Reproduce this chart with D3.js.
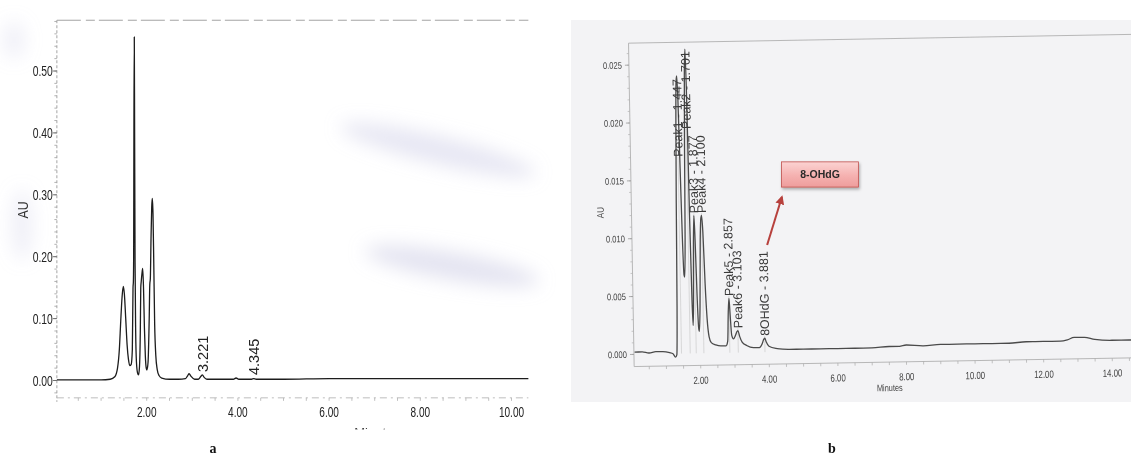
<!DOCTYPE html>
<html>
<head>
<meta charset="utf-8">
<script src="https://cdn.jsdelivr.net/npm/d3@7"></script>
<style>
  body { margin: 0; background: #fff; }
  svg { display: block; font-family: "Liberation Sans", Arial, sans-serif; }
</style>
</head>
<body>
<svg id="chart" width="1131" height="460"></svg>
<script>
// ---------------- Chromatogram a (AU vs minutes) ----------------
const traceA = [
  [0.03,0.001],[0.5,0.001],[1.0,0.001],[1.20,0.002],[1.30,0.006],[1.36,0.020],[1.40,0.050],
  [1.43,0.095],[1.46,0.135],[1.487,0.152],[1.51,0.140],[1.54,0.100],[1.57,0.058],[1.60,0.034],
  [1.63,0.024],[1.66,0.026],[1.685,0.050],[1.700,0.150],[1.708,0.160],[1.714,0.200],[1.720,0.420],
  [1.728,0.555],[1.735,0.400],[1.745,0.190],[1.758,0.080],[1.775,0.030],[1.800,0.012],[1.820,0.009],
  [1.840,0.020],[1.860,0.080],[1.870,0.150],[1.880,0.160],[1.895,0.172],[1.912,0.181],[1.930,0.150],
  [1.950,0.085],[1.970,0.040],[1.990,0.020],[2.005,0.017],[2.030,0.030],[2.055,0.100],[2.068,0.155],
  [2.080,0.165],[2.095,0.230],[2.110,0.280],[2.123,0.294],[2.138,0.270],[2.155,0.190],[2.175,0.090],
  [2.200,0.040],[2.230,0.018],[2.270,0.008],[2.330,0.004],[2.50,0.002],[2.70,0.002],[2.85,0.003],
  [2.90,0.008],[2.93,0.011],[2.97,0.007],[3.05,0.002],[3.13,0.002],[3.19,0.007],[3.221,0.009],
  [3.26,0.005],[3.32,0.002],[3.60,0.002],[3.90,0.002],[3.96,0.004],[4.02,0.002],[4.30,0.002],
  [4.345,0.003],[4.40,0.002],[5.0,0.002],[6.0,0.003],[7.0,0.003],[8.0,0.003],[9.0,0.003],[10.37,0.003]
];
const peakTimesA   = [3.221, 4.345];
const peakLabelAUa = [0.0137, 0.0089];   // AU where each retention-time label starts
const yTicksA = [0, 0.1, 0.2, 0.3, 0.4, 0.5];
const xTicksA = [2, 4, 6, 8, 10];

// ---------------- Chromatogram b (8-OHdG run) ----------------
const traceB = [
  [0.08,0.0002],[0.3,0.0002],[0.5,0.0001],[0.7,0.0002],[0.9,0.0002],[1.1,0.0001],[1.2,0.0000],
  [1.27,-0.0003],[1.31,-0.0001],[1.34,0.0040],[1.37,0.0130],[1.40,0.0200],[1.425,0.0235],[1.447,0.0240],
  [1.47,0.0220],[1.50,0.0160],[1.53,0.0100],[1.56,0.0068],[1.58,0.0066],[1.61,0.0100],[1.64,0.0180],
  [1.67,0.0240],[1.701,0.0263],[1.725,0.0220],[1.75,0.0120],[1.78,0.0045],[1.80,0.0024],[1.82,0.0040],
  [1.85,0.0095],[1.877,0.0119],[1.90,0.0098],[1.93,0.0050],[1.96,0.0022],[1.98,0.0019],[2.01,0.0040],
  [2.05,0.0098],[2.08,0.0117],[2.10,0.0119],[2.13,0.0105],[2.17,0.0060],[2.21,0.0030],[2.26,0.0014],
  [2.32,0.0009],[2.45,0.0007],[2.60,0.0006],[2.75,0.0006],[2.80,0.0010],[2.83,0.0035],[2.857,0.0047],
  [2.88,0.0035],[2.92,0.0015],[2.97,0.0012],[3.03,0.0015],[3.07,0.0018],[3.103,0.0019],[3.15,0.0014],
  [3.22,0.0009],[3.35,0.0006],[3.55,0.0004],[3.72,0.0004],[3.80,0.0007],[3.85,0.0011],[3.881,0.0012],
  [3.92,0.0009],[4.0,0.0005],[4.2,0.0003],[4.6,0.0002],[5.0,0.0002],[5.5,0.0002],[6.0,0.0002],
  [6.5,0.0002],[7.0,0.0002],[7.5,0.0003],[7.8,0.0003],[8.0,0.0004],[8.5,0.0003],[9.0,0.0004],
  [9.5,0.0004],[10.0,0.0004],[10.5,0.0004],[11.0,0.0004],[11.5,0.0005],[12.0,0.0005],[12.5,0.0005],
  [12.7,0.0006],[12.9,0.0008],[13.2,0.0008],[13.5,0.0006],[14.0,0.0005],[14.5,0.0005],[15.0,0.0005],[15.6,0.0005]
];
const peakNamesB   = ["Peak1", "Peak2", "Peak3", "Peak4", "Peak5", "Peak6", "8OHdG"];
const peakTimesB   = [1.447, 1.701, 1.877, 2.100, 2.857, 3.103, 3.881];
const peakLabelAUb = [0.0170, 0.0194, 0.0121, 0.0121, 0.0049, 0.0021, 0.0014];
const yTicksB = [0, 0.005, 0.010, 0.015, 0.020, 0.025];
const xTicksB = [2, 4, 6, 8, 10, 12, 14];
const calloutText = "8-OHdG";

const svg = d3.select("#chart");
const defs = svg.append("defs");

// soft blur used for the faint stains on the paper
defs.append("filter").attr("id", "stain").attr("x", "-50%").attr("y", "-50%")
  .attr("width", "200%").attr("height", "200%")
  .append("feGaussianBlur").attr("stdDeviation", 9);

// ================= Panel a =================
const xA = d3.scaleLinear().domain([0, 10]).range([55.5, 511.5]);
const yA = d3.scaleLinear().domain([0, 0.5]).range([380.5, 71]);
const gA = svg.append("g");

// stains
const stains = gA.append("g").attr("filter", "url(#stain)").attr("fill", "#c9c9e4");
stains.append("ellipse").attr("cx", 438).attr("cy", 150).attr("rx", 100).attr("ry", 14)
  .attr("transform", "rotate(13.5,438,150)").attr("opacity", 0.45);
stains.append("ellipse").attr("cx", 452).attr("cy", 266).attr("rx", 88).attr("ry", 14)
  .attr("transform", "rotate(10,452,266)").attr("opacity", 0.5);
stains.append("ellipse").attr("cx", 14).attr("cy", 40).attr("rx", 10).attr("ry", 18).attr("opacity", 0.3);
stains.append("ellipse").attr("cx", 22).attr("cy", 225).attr("rx", 10).attr("ry", 35).attr("opacity", 0.3);

const axA = { left: xA(0.03), right: xA(10.37), top: yA(0.582), bottom: yA(-0.028) };

// frame lines
gA.append("line").attr("x1", axA.left).attr("x2", axA.right).attr("y1", axA.top).attr("y2", axA.top)
  .attr("stroke", "#9a9a9a").attr("stroke-width", 0.9).attr("stroke-dasharray", "24,5,9,4");
gA.append("line").attr("x1", axA.left).attr("x2", axA.left).attr("y1", axA.top).attr("y2", axA.bottom + 4)
  .attr("stroke", "#9a9a9a").attr("stroke-width", 0.9).attr("stroke-dasharray", "3,2");
gA.append("line").attr("x1", axA.left).attr("x2", axA.right).attr("y1", axA.bottom).attr("y2", axA.bottom)
  .attr("stroke", "#b5b5b5").attr("stroke-width", 0.9).attr("stroke-dasharray", "7,4,2,4");

// y axis ticks and labels
const yMinorA = d3.range(-0.02, 0.581, 0.02);
gA.selectAll(".yminA").data(yMinorA).join("line")
  .attr("x1", axA.left - 2.5).attr("x2", axA.left).attr("y1", d => yA(d)).attr("y2", d => yA(d))
  .attr("stroke", "#a0a0a0").attr("stroke-width", 0.8);
gA.selectAll(".yTickA").data(yTicksA).join("line")
  .attr("x1", axA.left - 4).attr("x2", axA.left).attr("y1", d => yA(d)).attr("y2", d => yA(d))
  .attr("stroke", "#666").attr("stroke-width", 0.9);
gA.selectAll(".yLabA").data(yTicksA).join("text")
  .attr("transform", d => `translate(${axA.left - 4},${yA(d)}) scale(0.74,1)`)
  .attr("text-anchor", "end").attr("dy", "0.36em")
  .attr("font-size", 14).attr("fill", "#222")
  .text(d => d3.format(".2f")(d));

// x axis ticks and labels
const xMinorA = d3.range(0.5, 10.4, 0.5);
gA.selectAll(".xminA").data(xMinorA).join("line")
  .attr("x1", d => xA(d)).attr("x2", d => xA(d)).attr("y1", axA.bottom).attr("y2", axA.bottom + 3)
  .attr("stroke", "#b0b0b0").attr("stroke-width", 0.8);
gA.selectAll(".xLabA").data(xTicksA).join("text")
  .attr("transform", d => `translate(${xA(d)},417) scale(0.72,1)`)
  .attr("text-anchor", "middle").attr("font-size", 14).attr("fill", "#222")
  .text(d => d3.format(".2f")(d));

// axis titles
gA.append("text").attr("transform", `translate(23,210) rotate(-90)`)
  .attr("text-anchor", "middle").attr("dy", "0.36em").attr("font-size", 14).attr("fill", "#333")
  .attr("textLength", 17).attr("lengthAdjust", "spacingAndGlyphs").text("AU");
defs.append("clipPath").attr("id", "cutA").append("rect")
  .attr("x", 340).attr("y", 420).attr("width", 100).attr("height", 9.5);
gA.append("text").attr("clip-path", "url(#cutA)")
  .attr("x", xA(7.05)).attr("y", 437).attr("text-anchor", "middle")
  .attr("font-size", 13).attr("fill", "#444").text("Minutes");

// trace
const lineA = d3.line().x(d => xA(d[0])).y(d => yA(d[1])).curve(d3.curveMonotoneX);
gA.append("path").datum(traceA).attr("d", lineA)
  .attr("fill", "none").attr("stroke", "#1c1c1c").attr("stroke-width", 1.3).attr("stroke-linejoin", "round");

// retention-time labels
gA.selectAll(".rtA").data(peakTimesA).join("text")
  .attr("transform", (d, i) => `translate(${xA(d)},${yA(peakLabelAUa[i])}) rotate(-90)`)
  .attr("dy", "0.36em").attr("font-size", 14.5).attr("fill", "#222")
  .text(d => d3.format(".3f")(d));

svg.append("text").attr("x", 213).attr("y", 453).attr("text-anchor", "middle")
  .attr("font-family", "'Liberation Serif', 'Times New Roman', serif")
  .attr("font-weight", "bold").attr("font-size", 14).attr("fill", "#111").text("a");

// ================= Panel b =================
const xB = d3.scaleLinear().domain([0, 14]).range([632, 1112.2]);
const yB = d3.scaleLinear().domain([0, 0.025]).range([354.3, 65]);

// scanned sheet
svg.append("rect").attr("x", 571).attr("y", 20).attr("width", 570).attr("height", 382)
  .attr("fill", "#f3f3f5");

const gB = svg.append("g").attr("transform", "rotate(-1,640,360)");
const axB = { left: xB(0.06), right: xB(16), top: yB(0.0269), bottom: yB(-0.00105) };

gB.append("line").attr("x1", axB.left).attr("x2", axB.right).attr("y1", axB.top).attr("y2", axB.top)
  .attr("stroke", "#a8a8a8").attr("stroke-width", 0.8);
gB.append("line").attr("x1", axB.left).attr("x2", axB.left).attr("y1", axB.top).attr("y2", axB.bottom)
  .attr("stroke", "#a8a8a8").attr("stroke-width", 0.8);
gB.append("line").attr("x1", axB.left).attr("x2", axB.right).attr("y1", axB.bottom).attr("y2", axB.bottom)
  .attr("stroke", "#a8a8a8").attr("stroke-width", 0.8);

// y ticks
const yMinorB = d3.range(0, 0.0265, 0.001);
gB.selectAll(".yminB").data(yMinorB).join("line")
  .attr("x1", axB.left - 2).attr("x2", axB.left).attr("y1", d => yB(d)).attr("y2", d => yB(d))
  .attr("stroke", "#b0b0b0").attr("stroke-width", 0.7);
gB.selectAll(".yTickB").data(yTicksB).join("line")
  .attr("x1", axB.left - 4).attr("x2", axB.left).attr("y1", d => yB(d)).attr("y2", d => yB(d))
  .attr("stroke", "#999").attr("stroke-width", 0.8);
gB.selectAll(".yLabB").data(yTicksB).join("text")
  .attr("transform", d => `translate(${axB.left - 7},${yB(d)}) scale(0.8,1)`)
  .attr("text-anchor", "end").attr("dy", "0.35em").attr("font-size", 9.5).attr("fill", "#444")
  .text(d => d3.format(".3f")(d));

// x ticks
const xMinorB = d3.range(0.5, 16, 0.5);
gB.selectAll(".xminB").data(xMinorB).join("line")
  .attr("x1", d => xB(d)).attr("x2", d => xB(d)).attr("y1", axB.bottom).attr("y2", axB.bottom + 3)
  .attr("stroke", "#aaa").attr("stroke-width", 0.7);
gB.selectAll(".xLabB").data(xTicksB).join("text")
  .attr("transform", d => `translate(${xB(d)},${axB.bottom + 18.5}) scale(0.75,1)`)
  .attr("text-anchor", "middle").attr("font-size", 10.5).attr("fill", "#444")
  .text(d => d3.format(".2f")(d));

gB.append("text").attr("transform", `translate(${xB(7.5)},${axB.bottom + 29}) scale(0.78,1)`)
  .attr("text-anchor", "middle").attr("font-size", 9.5).attr("fill", "#444").text("Minutes");
gB.append("text").attr("transform", `translate(603,212) rotate(-90) scale(0.85,1)`)
  .attr("text-anchor", "middle").attr("dy", "0.35em").attr("font-size", 9.5).attr("fill", "#444").text("AU");

// drop lines at each integrated peak
gB.selectAll(".dropB").data(peakTimesB).join("line")
  .attr("x1", d => xB(d)).attr("x2", d => xB(d))
  .attr("y1", yB(0)).attr("y2", (d, i) => yB(peakLabelAUb[i]))
  .attr("stroke", "#c4c4c4").attr("stroke-width", 0.6);

// trace
const lineB = d3.line().x(d => xB(d[0])).y(d => yB(d[1])).curve(d3.curveMonotoneX);
gB.append("path").datum(traceB).attr("d", lineB)
  .attr("fill", "none").attr("stroke", "#4a4a4a").attr("stroke-width", 1.3).attr("stroke-linejoin", "round");

// peak labels
gB.selectAll(".rtB").data(peakTimesB).join("text")
  .attr("transform", (d, i) => `translate(${xB(d)},${yB(peakLabelAUb[i])}) rotate(-90)`)
  .attr("dy", "0.36em").attr("font-size", 12.5).attr("fill", "#3a3a3a")
  .text((d, i) => `${peakNamesB[i]} - ${d3.format(".3f")(d)}`);

// callout box and arrow pointing at the 8-OHdG peak
const grad = defs.append("linearGradient").attr("id", "boxFill").attr("x1", 0).attr("x2", 0).attr("y1", 0).attr("y2", 1);
grad.append("stop").attr("offset", "0%").attr("stop-color", "#fbd3d2");
grad.append("stop").attr("offset", "55%").attr("stop-color", "#f5b1b0");
grad.append("stop").attr("offset", "100%").attr("stop-color", "#ee9d9c");
defs.append("filter").attr("id", "shadow").attr("x", "-20%").attr("y", "-20%").attr("width", "140%").attr("height", "160%")
  .append("feDropShadow").attr("dx", 1).attr("dy", 2).attr("stdDeviation", 1.5)
  .attr("flood-color", "#000").attr("flood-opacity", 0.3);
defs.append("marker").attr("id", "arrowHead").attr("viewBox", "0 0 10 10")
  .attr("refX", 8).attr("refY", 5).attr("markerWidth", 4.5).attr("markerHeight", 4.5)
  .attr("orient", "auto-start-reverse")
  .append("path").attr("d", "M0,0 L10,5 L0,10 z").attr("fill", "#b7413d");

const box = { t0: 4.36, t1: 6.60, a0: 0.01663, a1: 0.01445 };
svg.append("rect").attr("x", xB(box.t0)).attr("y", yB(box.a0))
  .attr("width", xB(box.t1) - xB(box.t0)).attr("height", yB(box.a1) - yB(box.a0))
  .attr("fill", "url(#boxFill)").attr("stroke", "#c0504d").attr("stroke-width", 0.8)
  .attr("filter", "url(#shadow)");
svg.append("text").attr("x", (xB(box.t0) + xB(box.t1)) / 2).attr("y", (yB(box.a0) + yB(box.a1)) / 2)
  .attr("dy", "0.36em").attr("text-anchor", "middle").attr("font-weight", "bold")
  .attr("font-size", 10.5).attr("fill", "#2a2a2a").text(calloutText);
svg.append("line")
  .attr("x1", xB(3.94)).attr("y1", yB(0.00944)).attr("x2", xB(4.37)).attr("y2", yB(0.01359))
  .attr("stroke", "#b7413d").attr("stroke-width", 2).attr("marker-end", "url(#arrowHead)");

svg.append("text").attr("x", 832).attr("y", 453).attr("text-anchor", "middle")
  .attr("font-family", "'Liberation Serif', 'Times New Roman', serif")
  .attr("font-weight", "bold").attr("font-size", 14).attr("fill", "#111").text("b");
</script>
</body>
</html>
